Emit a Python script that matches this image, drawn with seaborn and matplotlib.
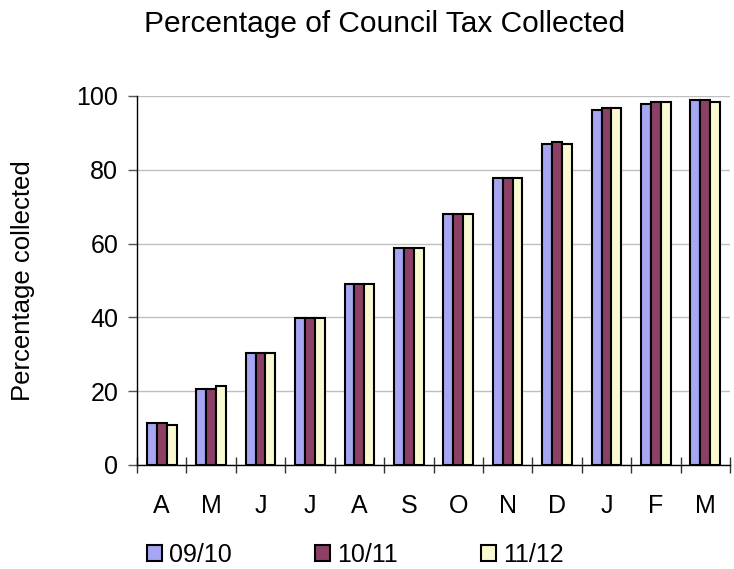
import pandas as pd
import seaborn as sns
import matplotlib.pyplot as plt

# --- Data ---
MONTHS = ["A", "M", "J", "J", "A", "S", "O", "N", "D", "J", "F", "M"]
YEARS = ["09/10", "10/11", "11/12"]
Y0910 = [11.3, 20.7, 30.4, 39.8, 49.1, 58.8, 68.0, 77.8, 87.0, 96.3, 97.9, 98.9]
Y1011 = [11.3, 20.7, 30.4, 39.8, 49.1, 58.8, 68.0, 77.8, 87.6, 96.7, 98.5, 98.9]
Y1112 = [10.9, 21.3, 30.4, 39.8, 49.1, 58.8, 68.0, 77.8, 87.0, 96.7, 98.5, 98.5]
COLORS = ["#9999FF", "#993366", "#FFFFCC"]

# months repeat, so use positional keys for the x axis
rows = []
for year, vals in zip(YEARS, [Y0910, Y1011, Y1112]):
    for i, v in enumerate(vals):
        rows.append({"pos": i, "Year": year, "Value": v})
df = pd.DataFrame(rows)

sns.set_theme(style="white")
plt.rcParams["font.family"] = ["Liberation Sans", "DejaVu Sans"]
plt.rcParams["text.color"] = "black"
plt.rcParams["axes.labelcolor"] = "black"
plt.rcParams["xtick.color"] = "black"
plt.rcParams["ytick.color"] = "black"

fig = plt.figure(figsize=(7.34, 5.69), dpi=100)
ax = fig.add_axes([0.1866, 0.1828, 0.808, 0.6485])

sns.barplot(data=df, x="pos", y="Value", hue="Year", palette=COLORS,
            width=0.6, edgecolor="black", linewidth=1.5, ax=ax, legend=True)

ax.set_ylim(0, 100)
ax.set_yticks([0, 20, 40, 60, 80, 100])
ax.yaxis.grid(True, color="#c0c0c0", linewidth=1)
ax.set_axisbelow(True)
for s in ["top", "right"]:
    ax.spines[s].set_visible(False)
for s in ["left", "bottom"]:
    ax.spines[s].set_color("black")
    ax.spines[s].set_linewidth(1)

ax.set_xticks(range(len(MONTHS)))
ax.set_xticklabels(MONTHS)
ax.tick_params(axis="x", length=0, labelsize=18, pad=21)
ax.tick_params(axis="y", left=True, length=6.5, width=1, labelsize=18,
               direction="out", pad=7, color="#555555")
# tick marks between categories
ax.set_xticks([i - 0.5 for i in range(len(MONTHS) + 1)], minor=True)
ax.tick_params(axis="x", which="minor", bottom=True, length=11.5, width=1,
               direction="inout", color="#333333")
ax.set_xlim(-0.5, len(MONTHS) - 0.5)

ax.set_xlabel("")
ax.set_ylabel("Percentage collected", fontsize=18.5)
ax.yaxis.set_label_coords(-0.172, 0.5)
fig.text(385 / 734, 1 - 32 / 569, "Percentage of Council Tax Collected",
         fontsize=21.5, ha="center", va="baseline")

handles, labels = ax.get_legend_handles_labels()
ax.get_legend().remove()
fig.legend(handles, labels, loc="center left", bbox_to_anchor=(147 / 734, 0.0246),
           ncol=3, frameon=False, fontsize=18, handlelength=0.6, handleheight=0.6,
           handletextpad=0.3, columnspacing=3.3, borderpad=0, borderaxespad=0)

fig.savefig("out.png", dpi=100)
